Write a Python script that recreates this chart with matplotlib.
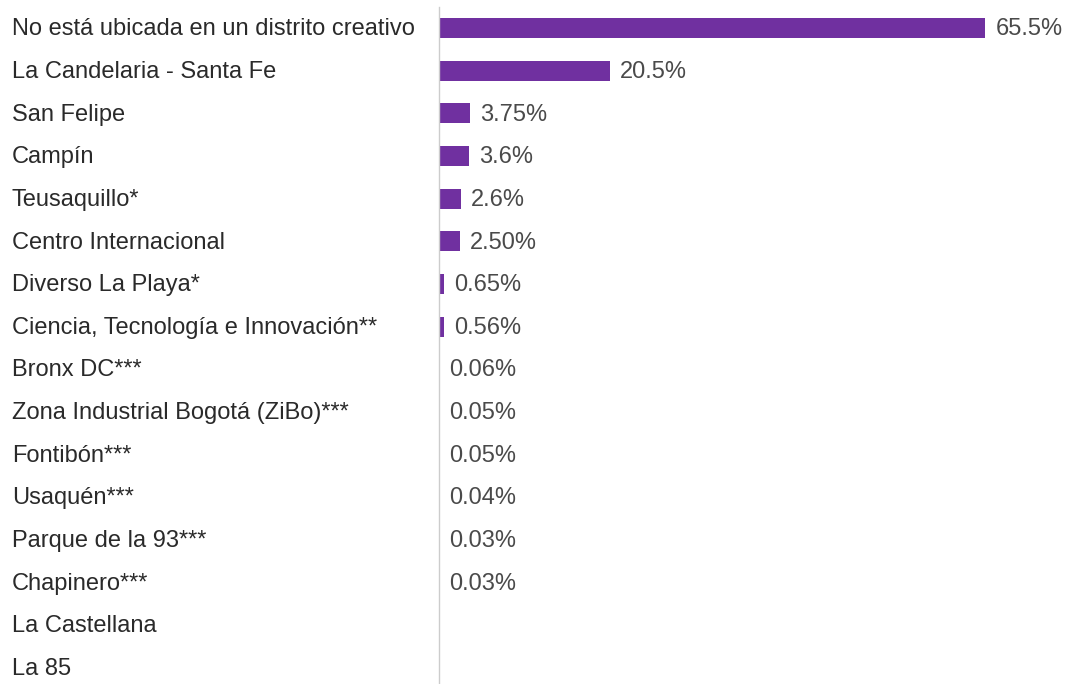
import matplotlib
matplotlib.use("Agg")
import matplotlib.pyplot as plt

# categories and values (percent)
categories = [
    "No está ubicada en un distrito creativo",
    "La Candelaria - Santa Fe",
    "San Felipe",
    "Campín",
    "Teusaquillo*",
    "Centro Internacional",
    "Diverso La Playa*",
    "Ciencia, Tecnología e Innovación**",
    "Bronx DC***",
    "Zona Industrial Bogotá (ZiBo)***",
    "Fontibón***",
    "Usaquén***",
    "Parque de la 93***",
    "Chapinero***",
    "La Castellana",
    "La 85",
]
values = [65.5, 20.5, 3.75, 3.6, 2.6, 2.5, 0.65, 0.56,
          0.06, 0.05, 0.05, 0.04, 0.03, 0.03, None, None]
value_labels = ["65.5%", "20.5%", "3.75%", "3.6%", "2.6%", "2.50%", "0.65%",
                "0.56%", "0.06%", "0.05%", "0.05%", "0.04%", "0.03%", "0.03%",
                "", ""]

plt.rcParams['font.family'] = ['Liberation Sans', 'DejaVu Sans']

W, H = 1067, 684
fig = plt.figure(figsize=(W / 100, H / 100), dpi=100)
ax = fig.add_axes([439 / W, -5 / H, 1 - 439 / W, 1 - 1.7 / H])

n = len(categories)
ypos = list(range(n))
bar_vals = [v if v is not None else 0 for v in values]
ax.barh(ypos, bar_vals, height=0.47, color="#7030a0", edgecolor="none")

ax.set_xlim(0, (W - 439) / 8.34)
ax.set_ylim(n - 0.5, -0.5)

px = (W - 439) / 8.34 / (W - 439)  # data units per pixel
for i, (v, lab) in enumerate(zip(values, value_labels)):
    if v is None:
        continue
    ax.text(v + 10 * px, i + 0.03, lab, va="center", ha="left",
            fontsize=17, color="#4a4a4a")

# category labels on the left side
for i, cat in enumerate(categories):
    y_fig = ax.transData.transform((0, i + 0.03))[1] / H
    fig.text(12 / W, y_fig, cat, va="center", ha="left",
             fontsize=17, color="#2a2a2a")

for s in ["top", "right", "bottom"]:
    ax.spines[s].set_visible(False)
ax.spines["left"].set_color("#cccccc")
ax.spines["left"].set_linewidth(1)
ax.set_xticks([])
ax.set_yticks([])

fig.savefig("out.png", dpi=100)
